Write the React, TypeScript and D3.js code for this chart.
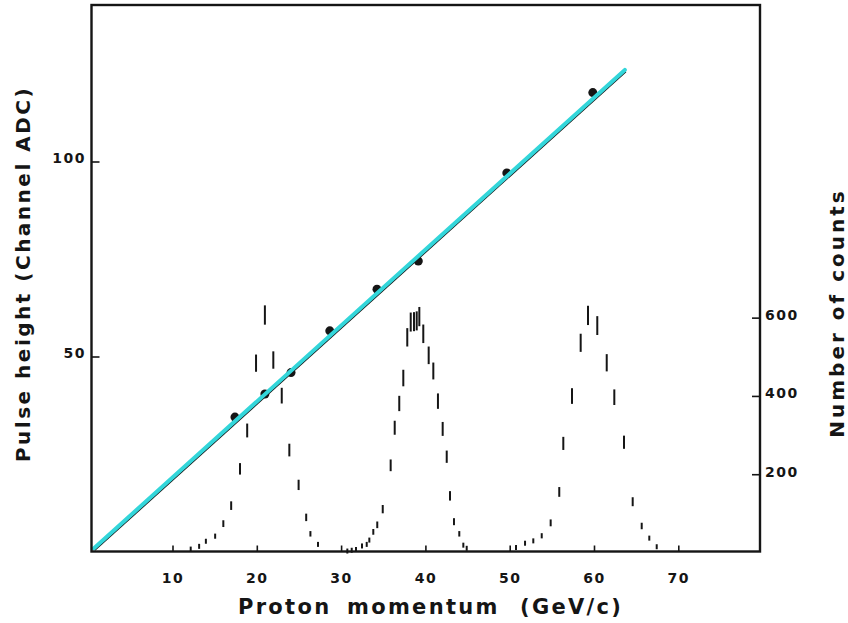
import React from "react";
import * as d3 from "d3";

// ---- Data ----
const xTickValues = [10, 20, 30, 40, 50, 60, 70];
const leftTickValues = [50, 100];
const rightTickValues = [200, 400, 600];

// Calibration points: proton momentum (GeV/c) vs pulse height (channel ADC)
const calibMomentum = [17.35, 20.9, 24.0, 28.6, 34.2, 39.1, 49.6, 59.8];
const calibPulse = [34.6, 40.5, 46.0, 56.7, 67.4, 74.6, 97.2, 117.8];

// Linear fit endpoints
const fitMomentum = [0.6, 63.6];
const fitPulse = [0.9, 123.6];

// Pulse-height distributions (number of counts), three beam momenta
const peak1Momentum = [12.1, 13.1, 13.9, 15.0, 15.97, 16.9, 17.95, 18.8, 19.85, 20.9, 21.9, 22.9, 23.8, 24.9, 25.8, 26.3, 27.2];
const peak1Counts = [10, 17, 30, 43, 75, 121, 215, 313, 485, 608, 493, 402, 263, 174, 91, 49, 22];

const peak2Momentum = [30.68, 31.2, 31.71, 32.42, 32.98, 33.29, 33.76, 34.23, 34.88, 35.82, 36.3, 36.84, 37.32, 37.79, 38.2, 38.59, 38.91, 39.22, 39.69, 40.33, 40.88, 41.43, 41.99, 42.47, 42.86, 43.33, 43.96, 44.44, 44.84];
const peak2Counts = [5, 7, 9, 18, 22, 33, 54, 72, 112, 224, 320, 382, 447, 551, 590, 591, 593, 604, 560, 505, 465, 388, 317, 246, 146, 80, 49, 20, 12];

const peak3Momentum = [50.69, 51.76, 52.74, 53.74, 54.8, 55.82, 56.3, 57.33, 58.36, 59.23, 60.33, 61.45, 62.35, 63.5, 64.53, 65.6, 66.5, 67.38];
const peak3Counts = [14, 25, 31, 44, 77, 156, 280, 401, 537, 607, 581, 486, 398, 283, 131, 69, 38, 16];

const xTitleWords = ["Proton", "momentum", "(GeV/c)"];
const leftTitle = "Pulse height (Channel ADC)";
const rightTitle = "Number of counts";

const W = 848;
const H = 623;
const FONT = "'DejaVu Sans', 'Liberation Sans', sans-serif";

export default function App() {
  const x = d3.scaleLinear().domain([0, 80]).range([88.7, 88.7 + 80 * 8.43]);
  const yL = d3.scaleLinear().domain([0, 140]).range([552, 6]);
  const yR = d3.scaleLinear().domain([0, 1400]).range([553, 5]);

  const frame = { left: 91.5, right: 760, top: 5, bottom: 551.5 };

  const peaks = [
    { m: peak1Momentum, c: peak1Counts },
    { m: peak2Momentum, c: peak2Counts },
    { m: peak3Momentum, c: peak3Counts },
  ];

  const fitLine = d3
    .line<number>()
    .x((_, i) => x(fitMomentum[i]))
    .y((_, i) => yL(fitPulse[i]));
  const fitPath = fitLine(fitMomentum) || "";

  const ink = "#151515";
  const wordX = [238, 347, 520];

  return (
    <svg
      width={W}
      height={H}
      viewBox={`0 0 ${W} ${H}`}
      style={{ position: "absolute", left: 0, top: 0, background: "#fff" }}
    >
      <rect x={0} y={0} width={W} height={H} fill="#fff" />

      {/* histogram dashes (count +/- sqrt(count)) */}
      {peaks.map((p, k) =>
        p.m.map((mv, i) => {
          const n = p.c[i];
          const cy = yR(n);
          const half = Math.max(yR(0) - yR(Math.sqrt(n)), 2.5);
          return (
            <line
              key={`h${k}-${i}`}
              x1={x(mv)}
              x2={x(mv)}
              y1={cy - half}
              y2={cy + half}
              stroke={ink}
              strokeWidth={2}
            />
          );
        })
      )}

      {/* calibration points */}
      {calibMomentum.map((mv, i) => (
        <circle key={`p${i}`} cx={x(mv)} cy={yL(calibPulse[i])} r={4.5} fill={ink} />
      ))}

      {/* fit line: black under cyan */}
      <path d={fitPath} transform="translate(0.8,1.6)" stroke={ink} strokeWidth={2} fill="none" />
      <path d={fitPath} stroke="#33d6da" strokeWidth={4} fill="none" strokeLinecap="round" />

      {/* frame */}
      <rect
        x={frame.left}
        y={frame.top}
        width={frame.right - frame.left}
        height={frame.bottom - frame.top}
        fill="none"
        stroke={ink}
        strokeWidth={2.4}
      />

      {/* bottom ticks */}
      {xTickValues.map((v) => (
        <g key={`xt${v}`}>
          <line x1={x(v)} x2={x(v)} y1={frame.bottom} y2={frame.bottom - 6} stroke={ink} strokeWidth={1.6} />
          <text
            x={x(v)}
            y={583}
            textAnchor="middle"
            fontFamily={FONT}
            fontWeight="bold"
            fontSize={14}
            letterSpacing={1.5}
            fill={ink}
          >
            {v}
          </text>
        </g>
      ))}

      {/* left ticks */}
      {leftTickValues.map((v) => (
        <g key={`yl${v}`}>
          <line x1={frame.left} x2={frame.left + 8} y1={yL(v)} y2={yL(v)} stroke={ink} strokeWidth={1.6} />
          <text
            x={86}
            y={yL(v) + 1}
            textAnchor="end"
            fontFamily={FONT}
            fontWeight="bold"
            fontSize={14}
            letterSpacing={1.5}
            fill={ink}
          >
            {v}
          </text>
        </g>
      ))}

      {/* right ticks */}
      {rightTickValues.map((v) => (
        <g key={`yr${v}`}>
          <line x1={frame.right - 8} x2={frame.right} y1={yR(v)} y2={yR(v)} stroke={ink} strokeWidth={1.6} />
          <text
            x={765}
            y={yR(v) + 2}
            textAnchor="start"
            fontFamily={FONT}
            fontWeight="bold"
            fontSize={14}
            letterSpacing={1.5}
            fill={ink}
          >
            {v}
          </text>
        </g>
      ))}

      {/* axis titles */}
      {xTitleWords.map((w, i) => (
        <text
          key={`xw${i}`}
          x={wordX[i]}
          y={614}
          textAnchor="start"
          fontFamily={FONT}
          fontWeight="bold"
          fontSize={21}
          letterSpacing={2.3}
          fill={ink}
        >
          {w}
        </text>
      ))}
      <text
        transform="translate(30,274) rotate(-90)"
        textAnchor="middle"
        fontFamily={FONT}
        fontWeight="bold"
        fontSize={20}
        letterSpacing={2.5}
        style={{ whiteSpace: "pre" }}
        fill={ink}
      >
        {leftTitle}
      </text>
      <text
        transform="translate(844,313) rotate(-90)"
        textAnchor="middle"
        fontFamily={FONT}
        fontWeight="bold"
        fontSize={20}
        letterSpacing={3}
        style={{ whiteSpace: "pre" }}
        fill={ink}
      >
        {rightTitle}
      </text>
    </svg>
  );
}
